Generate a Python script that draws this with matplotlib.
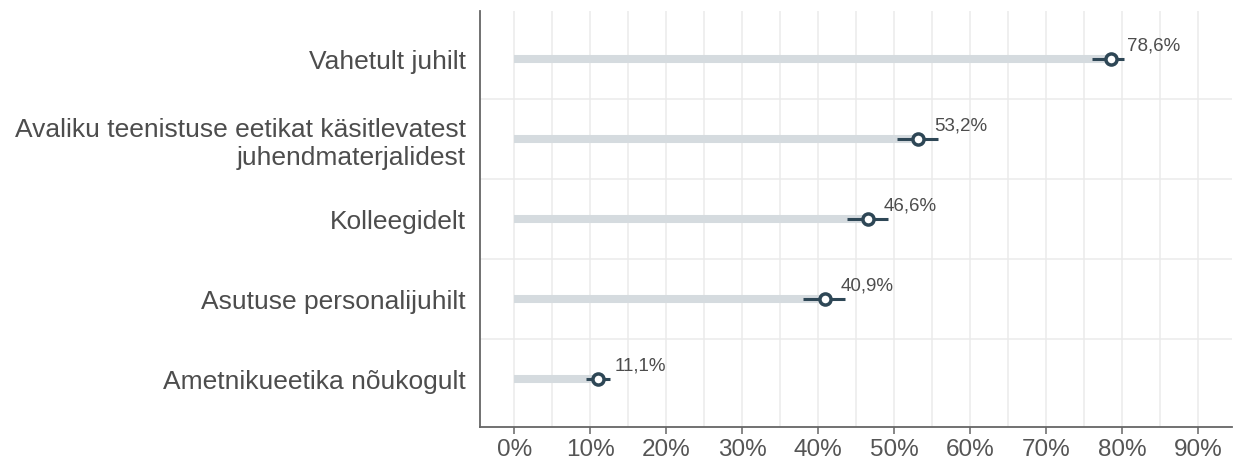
import matplotlib.pyplot as plt
from matplotlib.ticker import MultipleLocator, FuncFormatter

categories = ['Vahetult juhilt',
              'Avaliku teenistuse eetikat käsitlevatest\njuhendmaterjalidest',
              'Kolleegidelt',
              'Asutuse personalijuhilt',
              'Ametnikueetika nõukogult']
values = [78.6, 53.2, 46.6, 40.9, 11.1]
ci_low = [76.0, 50.4, 43.8, 38.0, 9.4]
ci_high = [80.3, 55.8, 49.2, 43.5, 12.6]

plt.rcParams['font.family'] = ['Liberation Sans', 'DejaVu Sans']
text_col = '#4d4d4d'
dark = '#2e4756'
light = '#d5dbdf'

fig = plt.figure(figsize=(12.38, 4.6), dpi=100)
ax = fig.add_axes([0.3877, 0.0696, 0.6075, 0.9044])

ypos = list(range(len(categories), 0, -1))

# background bars
ax.hlines(ypos, 0, values, color=light, lw=5.8, zorder=2)
# confidence intervals
ax.hlines(ypos, ci_low, ci_high, color=dark, lw=2.2, zorder=3)
ax.plot(values, ypos, 'o', ms=8, mfc='white', mec=dark, mew=2.5, zorder=4)

for y, v in zip(ypos, values):
    ax.text(v + 2.1, y + 0.17, ('%.1f%%' % v).replace('.', ','),
            ha='left', va='center', fontsize=13.5, color=text_col, zorder=5)

ax.set_xlim(-4.5, 94.5)
ax.set_ylim(0.4, 5.6)
ax.xaxis.set_major_locator(MultipleLocator(10))
ax.xaxis.set_minor_locator(MultipleLocator(5))
ax.xaxis.set_major_formatter(FuncFormatter(lambda x, p: '%d%%' % round(x)))
ax.set_yticks(ypos)
ax.set_yticklabels(categories)

ax.grid(True, axis='x', which='both', color='#ebebeb', lw=1.1, zorder=0)
for y in [1.5, 2.5, 3.5, 4.5]:
    ax.axhline(y, color='#ebebeb', lw=1.1, zorder=0)
ax.set_axisbelow(True)

for s in ['top', 'right']:
    ax.spines[s].set_visible(False)
for s in ['left', 'bottom']:
    ax.spines[s].set_color('#666666')
    ax.spines[s].set_linewidth(1.3)

ax.tick_params(axis='x', which='major', length=5, width=1.1, color='#666666',
               labelsize=17.5, labelcolor='#555555', pad=3)
ax.tick_params(axis='x', which='minor', length=0)
ax.tick_params(axis='y', length=0, labelsize=19, labelcolor=text_col, pad=10)

fig.savefig('out.png', dpi=100)
